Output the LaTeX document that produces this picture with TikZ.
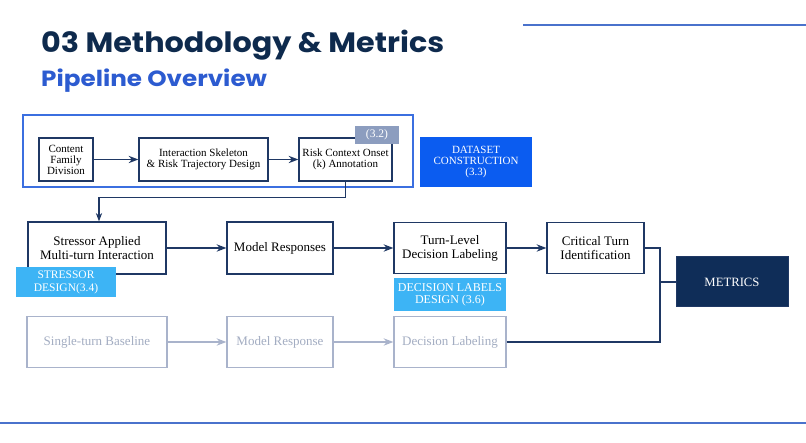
\documentclass[tikz,border=0pt]{standalone}
\usepackage{fontspec}
\setmainfont{Liberation Serif}
\newfontfamily\titlefont[FakeStretch=1.08]{Poppins}
\newfontfamily\subtitlefont[FakeStretch=1.12]{Poppins}
\usepackage{xcolor}
\usetikzlibrary{positioning, arrows.meta}

\definecolor{navy}{HTML}{1F3864}
\definecolor{titlenavy}{HTML}{0E2A4D}
\definecolor{subblue}{HTML}{2C5BD0}
\definecolor{rulblue}{HTML}{4A72CC}
\definecolor{frameblue}{HTML}{3B6FE0}
\definecolor{tagslate}{HTML}{8C9DBF}
\definecolor{dsblue}{HTML}{0B5CF0}
\definecolor{skyblue}{HTML}{3DB4F5}
\definecolor{metricsnavy}{HTML}{0F2D58}
\definecolor{paleline}{HTML}{A9B3CB}
\definecolor{paletext}{HTML}{A3ADC2}

\begin{document}
\begin{tikzpicture}
        [x=1pt, y=-1pt,
            every node/.style={align=center, inner sep=0pt},
            stepbox/.style={draw=navy, fill=white, line width=1.2pt},
            palebox/.style={draw=paleline, fill=white, line width=1.2pt, text=paletext, font=\fontsize{13}{15}\selectfont},
            tagbox/.style={text=white, font=\fontsize{11.5}{13}\selectfont},
            >=Stealth
        ]
        \useasboundingbox (0,0) rectangle (806,443);
        \draw[rulblue, line width=1.5pt] (523,25) -- (806,25);
        \draw[rulblue, line width=1.5pt] (0,423) -- (806,423);
        \node (title) [anchor=base west, text=titlenavy, font=\titlefont\bfseries\fontsize{28}{30}\selectfont] at (41,53) {03 Methodology \& Metrics};
        \node (subtitle) [anchor=base west, text=subblue, font=\subtitlefont\bfseries\fontsize{22}{24}\selectfont] at (41,87) {Pipeline Overview};
        % dataset construction stage
        \node (frame) [draw=frameblue, line width=1.5pt, minimum width=390, minimum height=72] at (218,151) {};
        \node (content) [stepbox, minimum width=54, minimum height=43, font=\fontsize{11}{11}\selectfont] at (66,159.5) {Content\\Family\\Division};
        \node (skeleton) [stepbox, minimum width=129, minimum height=43, font=\fontsize{11}{11.5}\selectfont] at (203.5,159.5) {Interaction Skeleton\\\& Risk Trajectory Design};
        \node (onset) [stepbox, minimum width=93, minimum height=43, font=\fontsize{11}{11.5}\selectfont] at (345.5,159.5) {Risk Context Onset\\(k) Annotation};
        \node (tagsec) [tagbox, fill=tagslate, minimum width=44, minimum height=18] at (377,135) {(3.2)};
        \node (dsconst) [tagbox, fill=dsblue, minimum width=112, minimum height=50, font=\fontsize{11}{11}\selectfont] at (476,162.5) {DATASET\\CONSTRUCTION\\(3.3)};
        % main multi-turn row
        \node (stressor) [stepbox, minimum width=138, minimum height=52, font=\fontsize{13}{14}\selectfont] at (97,248) {Stressor Applied\\Multi-turn Interaction};
        \node (tagstress) [tagbox, fill=skyblue, minimum width=100, minimum height=30] at (66,282) {STRESSOR\\DESIGN(3.4)};
        \node (responses) [stepbox, minimum width=106, minimum height=52, font=\fontsize{13}{14}\selectfont] at (280,248) {Model Responses};
        \node (turnlevel) [stepbox, minimum width=112, minimum height=51, font=\fontsize{13}{14}\selectfont] at (450,248) {Turn-Level\\Decision Labeling};
        \node (taglabels) [tagbox, fill=skyblue, minimum width=112, minimum height=33, font=\fontsize{12}{12}\selectfont] at (450,295) {DECISION LABELS\\DESIGN (3.6)};
        \node (critical) [stepbox, minimum width=97, minimum height=51, font=\fontsize{13}{14}\selectfont] at (595.5,248) {Critical Turn\\Identification};
        \node (metrics) [tagbox, draw=navy, fill=metricsnavy, line width=1pt, minimum width=112, minimum height=50, font=\fontsize{12.7}{13}\selectfont] at (732,282) {METRICS};
        % single-turn baseline row
        \node (baseline) [palebox, minimum width=140, minimum height=51] at (97,342) {Single-turn Baseline};
        \node (response1) [palebox, minimum width=106, minimum height=51] at (280,342) {Model Response};
        \node (declabel) [palebox, minimum width=112, minimum height=51] at (450,342) {Decision Labeling};
        \coordinate (merge) at (660,282);
        \draw[->, navy, line width=1.5pt] (content) -- (skeleton);
        \draw[->, navy, line width=1.5pt] (skeleton) -- (onset);
        \draw[->, navy, line width=1.2pt] (onset.south) -- ++(0,16) -| ([xshift=2pt]stressor.north);
        \draw[->, navy, line width=1.5pt] (stressor) -- (responses);
        \draw[->, navy, line width=1.5pt] (responses) -- (turnlevel);
        \draw[->, navy, line width=1.5pt] (turnlevel) -- (critical);
        \draw[navy, line width=1.5pt] (critical.east) -| (merge) -- (metrics.west);
        \draw[navy, line width=1.5pt] (declabel.east) -| (merge);
        \draw[->, paleline, line width=1.5pt] (baseline) -- (response1);
        \draw[->, paleline, line width=1.5pt] (response1) -- (declabel);
    \end{tikzpicture}
\end{document}
